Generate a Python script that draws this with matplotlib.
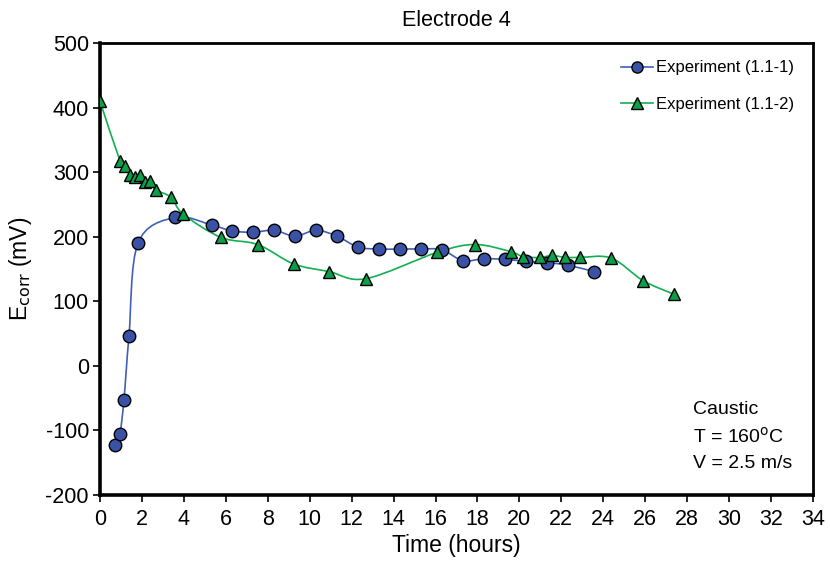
import numpy as np
import matplotlib
matplotlib.use('Agg')
import matplotlib.pyplot as plt
from matplotlib.path import Path
from matplotlib.patches import PathPatch
from matplotlib.lines import Line2D

plt.rcParams['font.family'] = ['Liberation Sans', 'DejaVu Sans']
plt.rcParams['axes.unicode_minus'] = False

# Experiment (1.1-1)
t1 = [0.72, 0.95, 1.14, 1.38, 1.81, 3.58, 5.34, 6.3, 7.3, 8.3, 9.3, 10.3, 11.3,
      12.3, 13.3, 14.3, 15.3, 16.3, 17.3, 18.3, 19.3, 20.3, 21.3, 22.3, 23.56]
e1 = [-123, -105, -53, 46, 190, 230, 218, 209, 207, 210, 201, 210, 201,
      184, 181, 181, 181, 180, 163, 166, 165, 162, 160, 156, 146]

# Experiment (1.1-2)
t2 = [0.0, 0.95, 1.19, 1.43, 1.67, 1.91, 2.15, 2.38, 2.65, 3.39, 3.97, 5.77,
      7.52, 9.23, 10.93, 12.67, 16.09, 17.88, 19.58, 20.19, 20.98, 21.57,
      22.19, 22.87, 24.38, 25.9, 27.37]
e2 = [410, 318, 309, 296, 293, 295, 285, 286, 273, 261, 235, 199,
      188, 158, 146, 135, 176, 188, 177, 169, 168, 171,
      168, 168, 167, 132, 111]


def smooth_path(x, y):
    # cubic Bezier segments through the points (Catmull-Rom style tangents)
    p = np.column_stack([x, y]).astype(float)
    n = len(p)
    verts = [p[0]]
    codes = [Path.MOVETO]
    for i in range(n - 1):
        p0 = p[i - 1] if i > 0 else p[i]
        p3 = p[i + 2] if i + 2 < n else p[i + 1]
        c1 = p[i] + (p[i + 1] - p0) / 6.0
        c2 = p[i + 1] - (p3 - p[i]) / 6.0
        verts += [c1, c2, p[i + 1]]
        codes += [Path.CURVE4] * 3
    return Path(verts, codes)


fig = plt.figure(figsize=(8.3, 5.67), dpi=100)
ax = fig.add_axes([0.1205, 0.127, 0.859, 0.797])

blue_line, blue_face = '#4060B8', '#3A52A6'
green_line, green_face = '#10B050', '#0AA04A'

ax.add_patch(PathPatch(smooth_path(t1, e1), fill=False, edgecolor=blue_line, lw=1.2, zorder=2))
ax.add_patch(PathPatch(smooth_path(t2, e2), fill=False, edgecolor=green_line, lw=1.2, zorder=2))
ax.plot(t1, e1, ls='none', marker='o', ms=9, mfc=blue_face, mec='black', mew=1.0, zorder=3)
ax.plot(t2, e2, ls='none', marker='^', ms=9, mfc=green_face, mec='black', mew=1.0, zorder=4)

ax.set_xlim(0, 34)
ax.set_ylim(-200, 500)
ax.set_xticks(np.arange(0, 35, 2))
ax.set_yticks(np.arange(-200, 501, 100))
ax.tick_params(labelsize=15.5, length=5, width=1.2, direction='out', color='black')
ax.tick_params(axis='x', pad=5)
ax.tick_params(axis='y', pad=3)

for side in ['left', 'bottom']:
    ax.spines[side].set_linewidth(2.6)
for side in ['top', 'right']:
    ax.spines[side].set_linewidth(2.0)

ax.set_title('Electrode 4', fontsize=15.5, pad=12)
ax.set_xlabel('Time (hours)', fontsize=16.5, labelpad=3)
ax.set_ylabel('E$_{\\mathrm{corr}}$ (mV)', fontsize=16.5, labelpad=8)

handles = [
    Line2D([], [], color=blue_line, lw=1.2, marker='o', ms=8, mfc=blue_face, mec='black'),
    Line2D([], [], color=green_line, lw=1.2, marker='^', ms=8, mfc=green_face, mec='black'),
]
ax.legend(handles, ['Experiment (1.1-1)', 'Experiment (1.1-2)'], loc='upper right',
          bbox_to_anchor=(0.995, 0.995), frameon=False, fontsize=12,
          handlelength=1.9, handletextpad=0.2, labelspacing=1.3)

ax.text(0.832, 0.190, 'Caustic', transform=ax.transAxes, fontsize=14, va='center')
ax.text(0.832, 0.128, 'T = 160$^{\\mathrm{o}}$C', transform=ax.transAxes, fontsize=14, va='center')
ax.text(0.832, 0.069, 'V = 2.5 m/s', transform=ax.transAxes, fontsize=14, va='center')

fig.savefig('out.png', dpi=100)
